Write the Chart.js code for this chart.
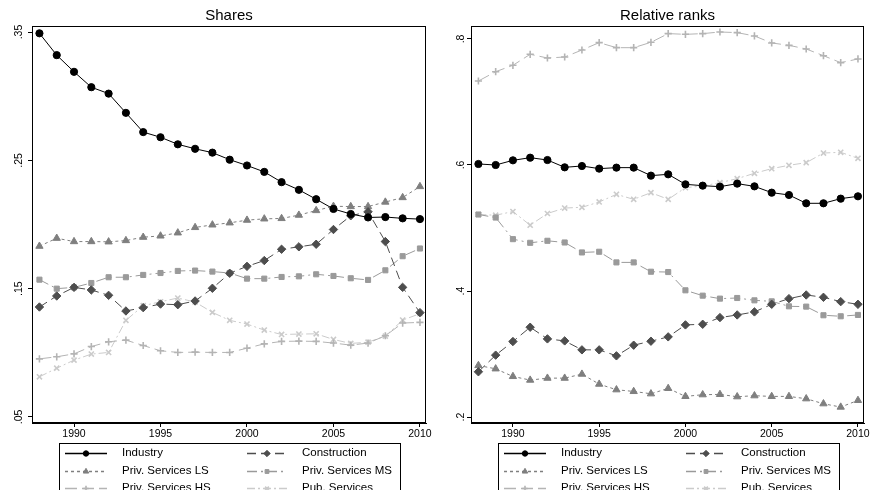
<!DOCTYPE html>
<html>
<head>
<meta charset="utf-8">
<script src="https://cdn.jsdelivr.net/npm/chart.js@4"></script>
<style>
  body { margin: 0; background: #fff; }
  #wrap { position: relative; width: 872px; height: 490px; overflow: hidden; }
  canvas { position: absolute; top: 0; }
</style>
</head>
<body>
<div id="wrap">
  <canvas id="sharesChart" width="436" height="490" style="left:0"></canvas>
  <canvas id="ranksChart" width="436" height="490" style="left:436px"></canvas>
</div>
<script>
// years on the x axis
const years = [1988, 1989, 1990, 1991, 1992, 1993, 1994, 1995, 1996, 1997, 1998, 1999,
               2000, 2001, 2002, 2003, 2004, 2005, 2006, 2007, 2008, 2009, 2010];
const xTicks = [1990, 1995, 2000, 2005, 2010];
const seriesNames = ['Industry', 'Construction', 'Priv. Services LS', 'Priv. Services MS', 'Priv. Services HS', 'Pub. Services'];

// Shares panel
const sharesTicks = [0.05, 0.15, 0.25, 0.35];
const sharesIndustry = [0.349, 0.332, 0.319, 0.307, 0.302, 0.287, 0.272, 0.268, 0.2625, 0.259, 0.256, 0.2505,
                        0.246, 0.241, 0.233, 0.227, 0.2197, 0.2121, 0.2082, 0.2055, 0.2058, 0.2048, 0.2042];
const sharesConstruction = [0.1357, 0.1443, 0.151, 0.149, 0.1448, 0.1326, 0.1352, 0.138, 0.1375, 0.1404, 0.1503, 0.162,
                            0.1674, 0.1719, 0.1807, 0.1826, 0.1846, 0.1961, 0.2068, 0.2099, 0.1867, 0.151, 0.1313];
const sharesLS = [0.1831, 0.1893, 0.1867, 0.1867, 0.1865, 0.1875, 0.1901, 0.1911, 0.1935, 0.1977, 0.1997, 0.2013,
                  0.2034, 0.2044, 0.2047, 0.2073, 0.2109, 0.2142, 0.214, 0.214, 0.2175, 0.221, 0.2296];
const sharesMS = [0.157, 0.15, 0.151, 0.1544, 0.1589, 0.1589, 0.1607, 0.1622, 0.1638, 0.1641, 0.1633, 0.1622,
                  0.1578, 0.1578, 0.1591, 0.1596, 0.1612, 0.1599, 0.1581, 0.1568, 0.1643, 0.1753, 0.1813];
const sharesHS = [0.0953, 0.0969, 0.0992, 0.1049, 0.1086, 0.1099, 0.1057, 0.1016, 0.1003, 0.1005, 0.1003, 0.1003,
                  0.1036, 0.107, 0.1089, 0.1091, 0.1089, 0.1076, 0.106, 0.1076, 0.1133, 0.1232, 0.1237];
const sharesPub = [0.0813, 0.088, 0.0943, 0.099, 0.1003, 0.1253, 0.1367, 0.1398, 0.1427, 0.1396, 0.1315, 0.1253,
                   0.1224, 0.1177, 0.1143, 0.1146, 0.1148, 0.1104, 0.1073, 0.1083, 0.113, 0.1255, 0.1305];

// Relative ranks panel
const ranksTicks = [0.2, 0.4, 0.6, 0.8];
const ranksIndustry = [0.6016, 0.6, 0.6074, 0.6116, 0.6079, 0.5963, 0.5984, 0.5942, 0.5958, 0.5958, 0.5831, 0.5852,
                       0.5693, 0.5672, 0.5656, 0.5704, 0.5661, 0.5561, 0.5524, 0.5392, 0.5392, 0.5466, 0.5503];
const ranksConstruction = [0.2718, 0.2982, 0.3198, 0.3425, 0.324, 0.3208, 0.3066, 0.3066, 0.2971, 0.314, 0.3203, 0.3272,
                           0.3462, 0.3472, 0.3578, 0.362, 0.3668, 0.3789, 0.3879, 0.3937, 0.39, 0.3831, 0.3789];
const ranksLS = [0.2818, 0.2765, 0.2644, 0.2586, 0.2617, 0.2617, 0.2681, 0.2522, 0.2433, 0.2406, 0.2369, 0.2454,
                 0.2327, 0.2354, 0.2359, 0.2322, 0.2338, 0.2327, 0.2327, 0.229, 0.2211, 0.2158, 0.2264];
const ranksMS = [0.5214, 0.5166, 0.4823, 0.4765, 0.4797, 0.477, 0.4612, 0.4623, 0.4454, 0.4454, 0.4306, 0.4301,
                 0.4011, 0.3926, 0.3879, 0.3889, 0.3852, 0.3836, 0.3757, 0.3752, 0.3615, 0.3599, 0.362];
const ranksHS = [0.7333, 0.7481, 0.7582, 0.7757, 0.7698, 0.7714, 0.7825, 0.7942, 0.7862, 0.7862, 0.7947, 0.8085,
                 0.8074, 0.8085, 0.8111, 0.8101, 0.8048, 0.7937, 0.7899, 0.7841, 0.7735, 0.7624, 0.7683];
const ranksPub = [0.5214, 0.5203, 0.5261, 0.5045, 0.523, 0.5317, 0.5328, 0.5413, 0.5534, 0.5455, 0.5561, 0.5455,
                  0.564, 0.5667, 0.572, 0.5783, 0.5868, 0.5942, 0.5995, 0.6037, 0.619, 0.6201, 0.6106];

// one look per series: colour, marker, dash
const styles = [
    { color: '#000000', point: 'circle',   radius: 3.6, dash: [] },
    { color: '#4d4d4d', point: 'rectRot',  radius: 4.2, dash: [9, 5] },
    { color: '#7f7f7f', point: 'triangle', radius: 4.2, dash: [3, 3] },
    { color: '#9a9a9a', point: 'rect',     radius: 3.6, dash: [10, 4, 2, 4] },
    { color: '#b4b4b4', point: 'cross',    radius: 3.6, dash: [12, 5] },
    { color: '#cbcbcb', point: 'crossRot', radius: 3.6, dash: [8, 3, 2, 3] }
];

const font = '"Liberation Sans", Arial, Helvetica, sans-serif';

function makeDatasets(seriesList) {
    return seriesList.map((vals, i) => ({
        label: seriesNames[i],
        data: years.map((yr, j) => ({ x: yr, y: vals[j] })),
        borderColor: styles[i].color,
        backgroundColor: styles[i].color,
        borderWidth: 1,
        borderDash: styles[i].dash,
        pointStyle: styles[i].point,
        pointRadius: styles[i].radius,
        pointBorderWidth: (styles[i].point === 'cross' || styles[i].point === 'crossRot') ? 1.6 : 1,
        pointBackgroundColor: styles[i].color,
        pointBorderColor: styles[i].color,
        tension: 0
    }));
}

// box around the plot region
const framePlugin = {
    id: 'frame',
    afterDraw(chart) {
        const a = chart.chartArea;
        const ctx = chart.ctx;
        ctx.save();
        ctx.strokeStyle = '#000';
        ctx.lineWidth = 1;
        ctx.strokeRect(Math.round(a.left) + 0.5, Math.round(a.top) + 0.5,
                       Math.round(a.right - a.left) - 1, Math.round(a.bottom - a.top) - 1);
        ctx.restore();
    }
};

// Stata-like boxed legend, two columns, cut by the bottom edge
const boxLegendPlugin = {
    id: 'boxLegend',
    afterDraw(chart, args, opts) {
        const ctx = chart.ctx;
        const left = opts.left;
        const top = 443;
        const rows = [453, 471, 488];
        const cols = [{ s0: left + 6, s1: left + 48, t: left + 63 }, { s0: left + 188, s1: left + 228, t: left + 243 }];
        ctx.save();
        ctx.strokeStyle = '#000';
        ctx.lineWidth = 1;
        ctx.strokeRect(left + 0.5, top + 0.5, 341, 60);
        chart.data.datasets.forEach((ds, i) => {
            const c = cols[i % 2];
            const y = rows[Math.floor(i / 2)];
            ctx.save();
            ctx.strokeStyle = ds.borderColor;
            ctx.lineWidth = 1.5;
            ctx.setLineDash(ds.borderDash);
            ctx.beginPath();
            ctx.moveTo(c.s0, y + 0.5);
            ctx.lineTo(c.s1, y + 0.5);
            ctx.stroke();
            ctx.setLineDash([]);
            ctx.fillStyle = ds.borderColor;
            ctx.strokeStyle = ds.borderColor;
            ctx.lineWidth = ds.pointBorderWidth;
            Chart.helpers.drawPoint(ctx, {
                pointStyle: ds.pointStyle,
                radius: ds.pointRadius * 0.75,
                borderWidth: ds.pointBorderWidth,
                rotation: 0
            }, (c.s0 + c.s1) / 2, y + 0.5);
            ctx.restore();
            ctx.fillStyle = '#000';
            ctx.font = '11.5px ' + font;
            ctx.textBaseline = 'middle';
            ctx.textAlign = 'left';
            ctx.fillText(ds.label, c.t, y);
        });
        ctx.restore();
    }
};

function buildChart(canvasId, title, seriesList, yTicks, yMin, yMax, axisWidth, rightPad, legendLeft) {
    const ctx = document.getElementById(canvasId);
    return new Chart(ctx, {
        type: 'line',
        data: { datasets: makeDatasets(seriesList) },
        options: {
            responsive: false,
            animation: false,
            devicePixelRatio: 1,
            layout: { padding: { left: 0, right: rightPad, top: 0, bottom: 52 } },
            plugins: {
                legend: { display: false },
                tooltip: { enabled: false },
                title: {
                    display: true,
                    text: title,
                    fullSize: false,
                    color: '#000',
                    font: { family: font, size: 15, weight: 'normal', lineHeight: 1.0 },
                    padding: { top: 8, bottom: 3 }
                },
                boxLegend: { left: legendLeft }
            },
            scales: {
                x: {
                    type: 'linear',
                    min: 1987.57,
                    max: 2010.35,
                    afterBuildTicks: (scale) => { scale.ticks = xTicks.map(v => ({ value: v })); },
                    afterFit: (scale) => { scale.height = 15; },
                    grid: { display: true, drawOnChartArea: false, drawTicks: true, tickLength: 4, color: '#000' },
                    border: { display: true, color: '#000' },
                    ticks: {
                        color: '#000',
                        padding: 1,
                        maxRotation: 0,
                        font: { family: font, size: 10.5 },
                        callback: (v) => String(v)
                    }
                },
                y: {
                    type: 'linear',
                    min: yMin,
                    max: yMax,
                    afterBuildTicks: (scale) => { scale.ticks = yTicks.map(v => ({ value: v })); },
                    afterFit: (scale) => { scale.width = axisWidth; },
                    grid: { display: true, drawOnChartArea: false, drawTicks: true, tickLength: 4, color: '#000' },
                    border: { display: true, color: '#000' },
                    ticks: {
                        color: '#000',
                        padding: 2,
                        minRotation: 90,
                        maxRotation: 90,
                        crossAlign: 'center',
                        font: { family: font, size: 10.5 },
                        callback: (v) => String(+v.toFixed(2)).replace(/^0/, '')
                    }
                }
            }
        },
        plugins: [framePlugin, boxLegendPlugin]
    });
}

document.addEventListener('DOMContentLoaded', () => {
    buildChart('sharesChart', 'Shares',
        [sharesIndustry, sharesConstruction, sharesLS, sharesMS, sharesHS, sharesPub],
        sharesTicks, 0.0453, 0.3547, 32, 10, 59);
    buildChart('ranksChart', 'Relative ranks',
        [ranksIndustry, ranksConstruction, ranksLS, ranksMS, ranksHS, ranksPub],
        ranksTicks, 0.1905, 0.8206, 35, 8, 62);
});
</script>
</body>
</html>
